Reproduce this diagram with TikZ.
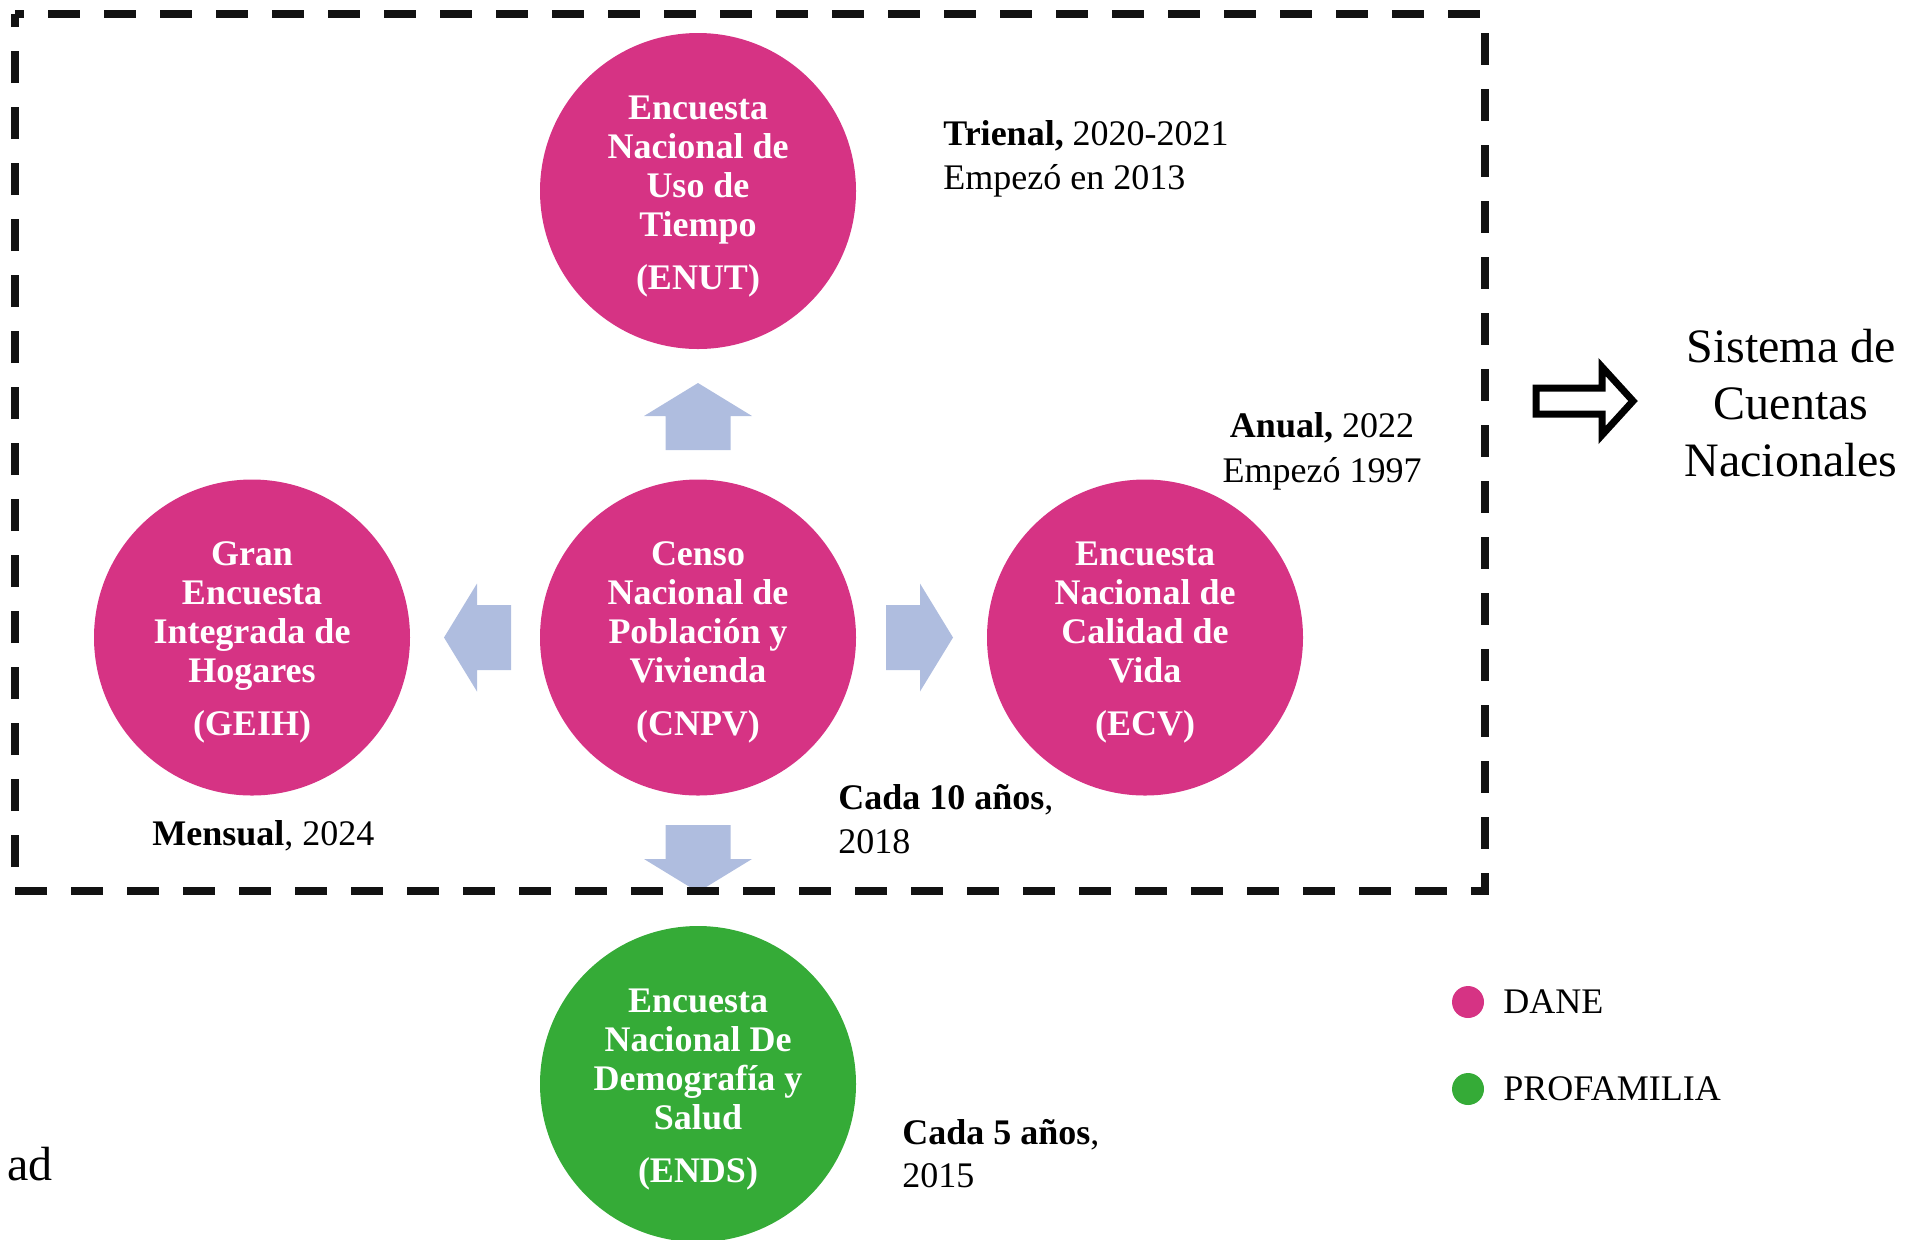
\documentclass[tikz,border=0pt]{standalone}
\usepackage{fontspec}
\setmainfont{Liberation Serif}
\usetikzlibrary{calc}
\definecolor{dpink}{RGB}{214,51,132}
\definecolor{pgreen}{RGB}{53,171,55}
\definecolor{ablue}{RGB}{175,189,223}
\newcommand{\blockarr}[2]{\fill[ablue, shift={#1}, rotate=#2] (0,-32.5) -- (34,-32.5) -- (34,-54) -- (67,0) -- (34,54) -- (34,32.5) -- (0,32.5) -- cycle;}
\newcommand{\toppad}{\rule{0pt}{17pt}}
\begin{document}
\begin{tikzpicture}[x=0.5pt,y=-0.5pt,
  circ/.style={circle, minimum size=158pt, inner sep=0pt, text=white, align=center,
    font=\bfseries\fontsize{18}{19.5}\selectfont},
  ann/.style={inner sep=0pt, font=\fontsize{18}{22}\selectfont},
  big/.style={inner sep=0pt, font=\fontsize{24}{28.5}\selectfont},
  legdot/.style={circle, minimum size=16pt, inner sep=0pt},
  dashbox/.style={line width=4pt, draw=black!93, dash pattern=on 16pt off 12pt, dash phase=11.5pt},
  hollow/.style={line width=3.5pt, draw=black, miter limit=10}]
\useasboundingbox (0,0) rectangle (1905,1239);

% circles
\node[circ, fill=dpink] (enut) at (698,191) {\toppad Encuesta\\Nacional de\\Uso de\\Tiempo\\[7pt](ENUT)};
\node[circ, fill=dpink] (cnpv) at (698,637.5) {\toppad Censo\\Nacional de\\Población y\\Vivienda\\[7pt](CNPV)};
\node[circ, fill=dpink] (geih) at (252,637.5) {\toppad Gran\\Encuesta\\Integrada de\\Hogares\\[7pt](GEIH)};
\node[circ, fill=dpink] (ecv) at (1145,637.5) {\toppad Encuesta\\Nacional de\\Calidad de\\Vida\\[7pt](ECV)};
\node[circ, fill=pgreen] (ends) at (698,1084) {\toppad Encuesta\\Nacional De\\Demografía y\\Salud\\[7pt](ENDS)};

% block arrows from the census
\blockarr{($(cnpv)+(0,-187.5)$)}{90}
\blockarr{($(cnpv)+(-187,0)$)}{180}
\blockarr{($(cnpv)+(188,0)$)}{0}
\blockarr{($(cnpv)+(0,187.5)$)}{-90}

% dashed frame
\draw[dashbox] (15,14) -- (1485,14) -- (1485,891) -- (15,891) -- cycle;

% hollow arrow
\draw[hollow] (1536,388) -- (1602,388) -- (1602,367) -- (1633,401) -- (1602,435) -- (1602,414) -- (1536,414) -- cycle;

% annotations
\node[ann, anchor=base west] (tri1) at (943,145) {\textbf{Trienal,} 2020-2021};
\node[ann, anchor=base west] (tri2) at (943,189) {Empezó en 2013};
\node[ann, anchor=base] (anu1) at (1322,437) {\textbf{Anual,} 2022};
\node[ann, anchor=base] (anu2) at (1322,482) {Empezó 1997};
\node[ann, anchor=base west] (men) at (152,845) {\textbf{Mensual}, 2024};
\node[ann, anchor=base west] (c10a) at (838,809) {\textbf{Cada 10 años},};
\node[ann, anchor=base west] (c10b) at (838,853) {2018};
\node[ann, anchor=base west] (c5a) at (902,1144) {\textbf{Cada 5 años},};
\node[ann, anchor=base west] (c5b) at (902,1187) {2015};

% Sistema de Cuentas Nacionales
\node[big, anchor=base] (sis1) at (1791,362) {Sistema de};
\node[big, anchor=base] (sis2) at (1791,419) {Cuentas};
\node[big, anchor=base] (sis3) at (1791,476) {Nacionales};

% cut-off word
\node[big, anchor=base east] (adtxt) at (53,1180) {ad};

% legend
\node[legdot, fill=dpink] (ldane) at (1468,1002) {};
\node[legdot, fill=pgreen] (lprof) at (1468,1089) {};
\node[ann, anchor=base west] (tdane) at (1503,1013) {DANE};
\node[ann, anchor=base west] (tprof) at (1503,1100) {PROFAMILIA};
\end{tikzpicture}
\end{document}
